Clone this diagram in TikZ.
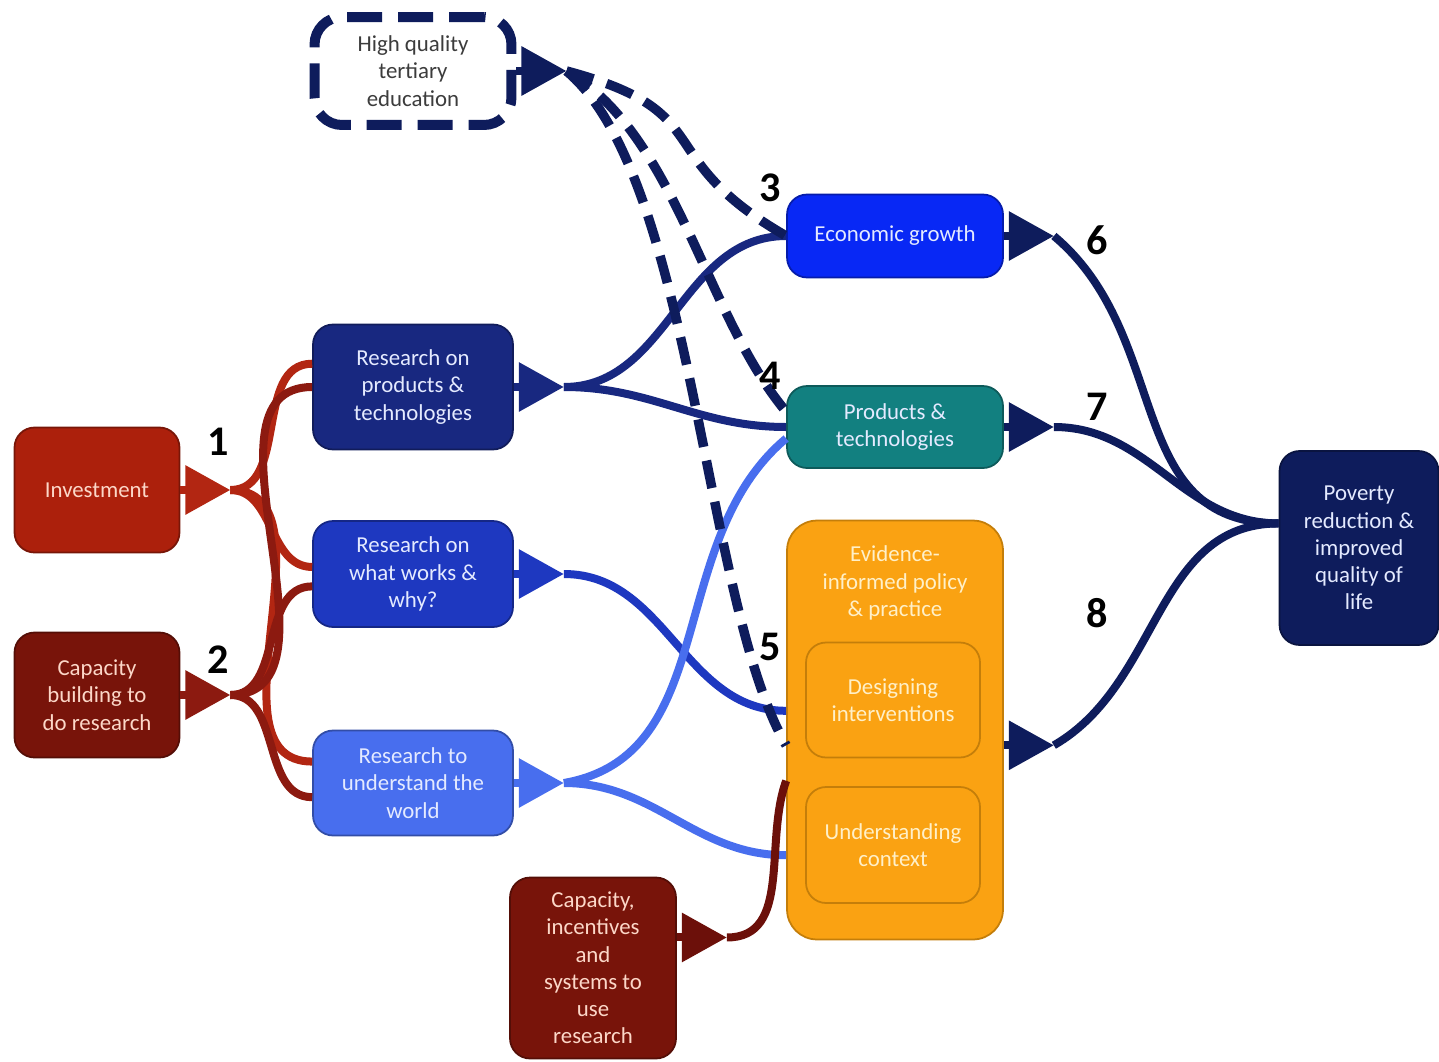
\documentclass[tikz,border=0pt]{standalone}
\usepackage{fontspec}
\setmainfont{Carlito}
\usetikzlibrary{arrows.meta, calc, positioning}

\definecolor{invred}{RGB}{172,32,12}
\definecolor{capred}{RGB}{120,20,10}
\definecolor{linered}{RGB}{178,38,18}
\definecolor{linedark}{RGB}{140,26,16}
\definecolor{usered}{RGB}{108,16,10}
\definecolor{rptc}{RGB}{24,40,128}
\definecolor{rwwc}{RGB}{30,56,192}
\definecolor{ruwc}{RGB}{72,110,238}
\definecolor{econc}{RGB}{8,40,245}
\definecolor{prodc}{RGB}{18,128,128}
\definecolor{orc}{RGB}{250,162,18}
\definecolor{orline}{RGB}{196,126,10}
\definecolor{povc}{RGB}{14,28,92}
\definecolor{redtxt}{RGB}{252,215,200}
\definecolor{bluetxt}{RGB}{228,234,255}
\definecolor{ortxt}{RGB}{255,240,200}
\definecolor{hqtxt}{RGB}{60,60,60}

\begin{document}
\begin{tikzpicture}[x=0.02cm,y=-0.02cm,
    cbox/.style={draw=#1!70!black, fill=#1, line width=1pt, rounded corners=0.4cm, align=center, font=\fontsize{13}{15.5}\selectfont},
    stub/.style={draw=#1, line width=0.16cm, -{Triangle[length=0.9cm,width=0.95cm]}},
    link/.style={draw=#1, line width=0.16cm},
    dlink/.style={draw=povc, line width=0.19cm, dash pattern=on 0.56cm off 0.28cm},
    num/.style={font=\fontsize{24}{24}\bfseries\selectfont}]

      \useasboundingbox (0,0) rectangle (1439,1061);

      \node[cbox=invred, text=redtxt, minimum width=3.3cm, minimum height=2.5cm] (inv) at (97,490) {Investment};
      \node[cbox=capred, text=redtxt, minimum width=3.3cm, minimum height=2.5cm] (capb) at (97,695) {Capacity\\building to\\do research};
      \node[cbox=rptc, text=bluetxt, minimum width=4cm, minimum height=2.5cm] (rpt) at (413,387) {Research on\\products \&\\technologies};
      \node[cbox=rwwc, text=bluetxt, minimum width=4cm, minimum height=2.12cm] (rww) at (413,574) {Research on\\what works \&\\why?};
      \node[cbox=ruwc, text=bluetxt, minimum width=4cm, minimum height=2.1cm] (ruw) at (413,783) {Research to\\understand the\\world};
      \node[cbox=econc, text=bluetxt, minimum width=4.32cm, minimum height=1.66cm] (econ) at (895,236) {Economic growth};
      \node[cbox=prodc, text=bluetxt, minimum width=4.32cm, minimum height=1.64cm] (prod) at (895,427) {Products \&\\technologies};
      \node[cbox=orc, draw=orline, rounded corners=0.6cm, minimum width=4.32cm, minimum height=8.38cm] (evid) at (895,730) {};
      \node[text=ortxt, align=center, font=\fontsize{13}{15.5}\selectfont] (evtxt) at (895,583) {Evidence-\\informed policy\\\& practice};
      \node[cbox=orc, draw=orline, text=ortxt, minimum width=3.48cm, minimum height=2.3cm] (des) at (893,700) {Designing\\interventions};
      \node[cbox=orc, draw=orline, text=ortxt, minimum width=3.48cm, minimum height=2.32cm] (und) at (893,845) {Understanding\\context};
      \node[cbox=povc, text=bluetxt, minimum width=3.18cm, minimum height=3.88cm] (pov) at (1359,548) {Poverty\\reduction \&\\improved\\quality of\\life};
      \node[cbox=capred, text=redtxt, minimum width=3.32cm, minimum height=3.62cm] (capu) at (593,968) {Capacity,\\incentives\\and\\systems to\\use\\research};
      \node[cbox=white, draw=povc, text=hqtxt, line width=0.2cm, dash pattern=on 0.7cm off 0.32cm, rounded corners=0.55cm, minimum width=3.94cm, minimum height=2.16cm] (hq) at (413,71) {High quality\\tertiary\\education};

      \draw[stub=linered] (inv.east) -- ++(50,0) coordinate (i1);
      \draw[link=linered] (i1) to[out=0,in=180] (rpt.167);
      \draw[link=linered] (i1) to[out=0,in=180] (rww.176);
      \draw[link=linered] (i1) to[out=0,in=180] (ruw.168);

      \draw[stub=linedark] (capb.east) -- ++(50,0) coordinate (c1);
      \draw[link=linedark] (c1) to[out=0,in=180] (rpt.west);
      \draw[link=linedark] (c1) to[out=0,in=180] (rww.187);
      \draw[link=linedark] (c1) to[out=0,in=180] (ruw.188);

      \draw[stub=rptc] (rpt.east) -- ++(50,0) coordinate (r1);
      \draw[link=rptc] (r1) to[out=0,in=180] (econ.west);
      \draw[link=rptc] (r1) to[out=0,in=180] (prod.west);

      \draw[stub=rwwc] (rww.east) -- ++(50,0) coordinate (w1);
      \draw[link=rwwc] (w1) to[out=0,in=180] (evid.170);

      \draw[stub=ruwc] (ruw.east) -- ++(50,0) coordinate (u1);
      \draw[link=ruwc] (u1) to[out=10,in=220] (prod.186);
      \draw[link=ruwc] (u1) to[out=0,in=180] (evid.229);

      \draw[stub=povc] (hq.east) -- ++(50,0) coordinate (h1);
      \draw[dlink] (h1) to[out=-15,in=150,looseness=1.5] (econ.west);
      \draw[dlink] (h1) to[out=-30,in=130,looseness=0.8] (prod.172);
      \draw[dlink] (h1) to[out=-40,in=120,looseness=0.6] (evid.188);

      \draw[stub=usered] (capu.20) -- ++(50,0) coordinate (k1);
      \draw[link=usered] (k1) to[out=0,in=250] (evid.205);

      \draw[stub=povc] (econ.east) -- ++(50,0) coordinate (e1);
      \draw[link=povc] (e1) to[out=-40,in=180,looseness=1.1] (pov.163);
      \draw[stub=povc] (prod.east) -- ++(50,0) coordinate (p1);
      \draw[link=povc] (p1) to[out=0,in=180] (pov.163);
      \draw[stub=povc] (evid.-8) -- ++(50,0) coordinate (v1);
      \draw[link=povc] (v1) to[out=30,in=180] (pov.163);

      \node[num] (n1) at (218,442) {1};
      \node[num] (n2) at (218,660) {2};
      \node[num] (n3) at (770,188) {3};
      \node[num] (n4) at (770,376) {4};
      \node[num] (n5) at (770,647) {5};
      \node[num] (n6) at (1097,240) {6};
      \node[num] (n7) at (1097,407) {7};
      \node[num] (n8) at (1097,613) {8};

    \end{tikzpicture}
\end{document}
